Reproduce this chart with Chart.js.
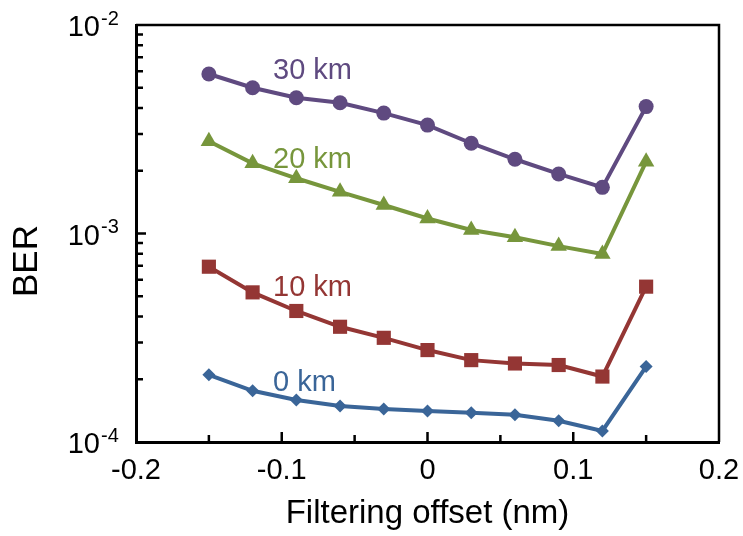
<!DOCTYPE html>
<html>
<head>
<meta charset="utf-8">
<script src="https://cdn.jsdelivr.net/npm/chart.js@4.4.1/dist/chart.umd.min.js"></script>
<style>
  html, body { margin: 0; padding: 0; background: #fff; }
  #wrap { width: 743px; height: 536px; }
</style>
</head>
<body>
<div id="wrap"><canvas id="ber-chart"></canvas></div>
<script>
// filtering offset (nm)
const offsets = [-0.15, -0.12, -0.09, -0.06, -0.03, 0, 0.03, 0.06, 0.09, 0.12, 0.15];

// BER
const ber_30km = [5.82e-3, 5.0e-3, 4.48e-3, 4.24e-3, 3.78e-3, 3.31e-3, 2.71e-3, 2.27e-3, 1.93e-3, 1.665e-3, 4.06e-3];
const ber_20km = [2.77e-3, 2.17e-3, 1.84e-3, 1.585e-3, 1.37e-3, 1.18e-3, 1.04e-3, 9.6e-4, 8.7e-4, 7.97e-4, 2.21e-3];
const ber_10km = [6.93e-4, 5.22e-4, 4.25e-4, 3.57e-4, 3.16e-4, 2.76e-4, 2.47e-4, 2.38e-4, 2.34e-4, 2.06e-4, 5.56e-4];
const ber_0km  = [2.1e-4, 1.76e-4, 1.59e-4, 1.49e-4, 1.44e-4, 1.41e-4, 1.38e-4, 1.35e-4, 1.265e-4, 1.13e-4, 2.3e-4];

const series_names = ["30 km", "20 km", "10 km", "0 km"];
const series_colours = ["#5f4a80", "#77963c", "#943634", "#3a6598"];
// where each distance label sits, in data units (x, BER)
const label_x = [-0.106, -0.106, -0.106, -0.106];
const label_y = [6.02e-3, 2.25e-3, 5.48e-4, 1.92e-4];

const y_decades = [1e-4, 1e-3, 1e-2];
const y_exponents = ["-4", "-3", "-2"];
const x_tick_labels = [-0.2, -0.1, 0, 0.1, 0.2];

const FONT = "'Liberation Sans', Arial, sans-serif";

function makeSeries(label, values, colour, style, radius) {
    return {
        label: label,
        data: offsets.map((x, i) => ({x: x, y: values[i]})),
        borderColor: colour,
        backgroundColor: colour,
        borderWidth: 4,
        pointStyle: style,
        pointRadius: radius,
        pointHoverRadius: radius,
        pointBorderWidth: 0,
        tension: 0
    };
}

// frame, inward ticks, y labels with exponents, axis titles, series labels
const decorations = {
    id: "decorations",
    afterDraw(chart) {
        const ctx = chart.ctx;
        const xs = chart.scales.x;
        const ys = chart.scales.y;
        const a = chart.chartArea;
        ctx.save();

        // top and right frame
        ctx.strokeStyle = "#000";
        ctx.lineWidth = 2.5;
        ctx.beginPath();
        ctx.moveTo(a.left, a.top);
        ctx.lineTo(a.right, a.top);
        ctx.lineTo(a.right, a.bottom);
        ctx.stroke();

        // x ticks every 0.05, pointing up
        ctx.lineWidth = 2.5;
        ctx.beginPath();
        for (let k = -3; k <= 3; k++) {
            const px = xs.getPixelForValue(k * 0.05);
            const len = (k % 2 === 0) ? 10 : 7;
            ctx.moveTo(px, a.bottom);
            ctx.lineTo(px, a.bottom - len);
        }
        // y minor ticks 2..9 per decade, major at decades
        for (let d = 0; d < 2; d++) {
            for (let m = 2; m <= 9; m++) {
                const py = ys.getPixelForValue(y_decades[d] * m);
                ctx.moveTo(a.left, py);
                ctx.lineTo(a.left + 7, py);
            }
        }
        const p3 = ys.getPixelForValue(1e-3);
        ctx.moveTo(a.left, p3);
        ctx.lineTo(a.left + 10, p3);
        ctx.stroke();

        // y tick labels 10^n
        ctx.fillStyle = "#000";
        for (let i = 0; i < y_decades.length; i++) {
            const py = ys.getPixelForValue(y_decades[i]);
            ctx.font = "29px " + FONT;
            ctx.textAlign = "right";
            ctx.textBaseline = "middle";
            ctx.fillText("10", 100, py + 3);
            ctx.font = "20px " + FONT;
            ctx.textAlign = "left";
            ctx.fillText(y_exponents[i], 101, py - 6);
        }

        // axis titles
        ctx.font = "33px " + FONT;
        ctx.textAlign = "center";
        ctx.textBaseline = "middle";
        ctx.fillText("Filtering offset (nm)", (a.left + a.right) / 2, 514);
        ctx.save();
        ctx.translate(27, 261);
        ctx.rotate(-Math.PI / 2);
        ctx.font = "35px " + FONT;
        ctx.fillText("BER", 0, 0);
        ctx.restore();

        // distance labels
        ctx.font = "29px " + FONT;
        ctx.textAlign = "left";
        for (let i = 0; i < series_names.length; i++) {
            ctx.fillStyle = series_colours[i];
            ctx.fillText(series_names[i], xs.getPixelForValue(label_x[i]), ys.getPixelForValue(label_y[i]));
        }
        ctx.restore();
    }
};

const config = {
    type: "line",
    data: {
        datasets: [
            makeSeries(series_names[0], ber_30km, series_colours[0], "circle", 7.5),
            makeSeries(series_names[1], ber_20km, series_colours[1], "triangle", 9.5),
            makeSeries(series_names[2], ber_10km, series_colours[2], "rect", 10),
            makeSeries(series_names[3], ber_0km, series_colours[3], "rectRot", 6.5)
        ]
    },
    options: {
        responsive: true,
        maintainAspectRatio: false,
        animation: false,
        layout: {
            padding: { left: 0, right: 24, top: 25, bottom: 0 }
        },
        plugins: {
            legend: { display: false },
            tooltip: { enabled: false }
        },
        scales: {
            x: {
                type: "linear",
                min: -0.2,
                max: 0.2,
                afterFit: (scale) => {
                    scale.height = 94;
                    scale.paddingLeft = 0;
                    scale.paddingRight = 0;
                },
                afterBuildTicks: (scale) => {
                    scale.ticks = x_tick_labels.map(v => ({value: v}));
                },
                grid: { display: false, drawTicks: false },
                border: { display: true, color: "#000", width: 3 },
                ticks: {
                    color: "#000",
                    font: { family: FONT, size: 29 },
                    padding: 12,
                    maxRotation: 0,
                    callback: (v) => (Math.abs(v) < 1e-9 ? "0" : String(Math.round(v * 10) / 10))
                }
            },
            y: {
                type: "logarithmic",
                min: 1e-4,
                max: 1e-2,
                afterFit: (scale) => {
                    scale.width = 136;
                    scale.paddingTop = 0;
                    scale.paddingBottom = 0;
                },
                grid: { display: false, drawTicks: false },
                border: { display: true, color: "#000", width: 3 },
                ticks: { display: false }
            }
        }
    },
    plugins: [decorations]
};

new Chart(document.getElementById("ber-chart").getContext("2d"), config);
</script>
</body>
</html>
